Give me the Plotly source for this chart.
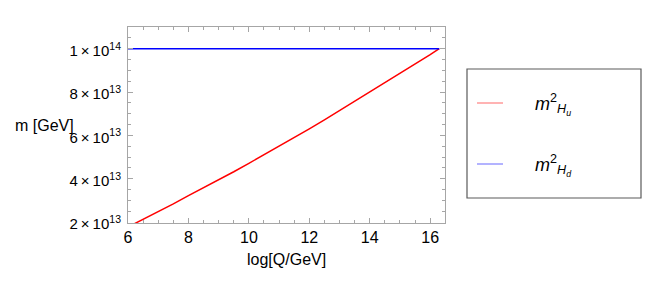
import plotly.graph_objects as go

# Data
log_q = [6.0, 6.5, 7.0, 7.5, 8.0, 8.5, 9.0, 9.5, 10.0, 10.5, 11.0, 11.5, 12.0,
         12.5, 13.0, 13.5, 14.0, 14.5, 15.0, 15.5, 16.0, 16.3]
m2_hu = [1.77e13, 2.12e13, 2.47e13, 2.84e13, 3.22e13, 3.58e13, 3.95e13, 4.32e13,
         4.71e13, 5.10e13, 5.49e13, 5.89e13, 6.30e13, 6.71e13, 7.14e13, 7.56e13,
         7.98e13, 8.41e13, 8.84e13, 9.28e13, 9.72e13, 1.0e14]
m2_hd = [1.0e14] * len(log_q)

x_ticks = [6, 8, 10, 12, 14, 16]
y_tickvals = [2e13, 4e13, 6e13, 8e13, 1e14]
y_ticktext = ["2\u2009×\u200910<sup>13</sup>\u2009", "4\u2009×\u200910<sup>13</sup>\u2009",
              "6\u2009×\u200910<sup>13</sup>\u2009", "8\u2009×\u200910<sup>13</sup>\u2009",
              "1\u2009×\u200910<sup>14</sup>\u2009"]
names = ["m²Hu", "m²Hd"]
legend_labels = ["<i>m</i><sup>2</sup><sub><i>H<sub>u</sub></i></sub>",
                 "<i>m</i><sup>2</sup><sub><i>H<sub>d</sub></i></sub>"]

W, H = 654, 281
OFF = 8  # page body margin in the browser
L, R, T, B = 128 - OFF, 445 - OFF, 27 - OFF, 223 - OFF  # plot box in pixels

def px(x):
    return (x - OFF - L) / (R - L)

def py(y):
    return (B - (y - OFF)) / (B - T)

FONT = "Liberation Sans, Arial, sans-serif"
frame = "#a6a6a6"

fig = go.Figure()
fig.add_trace(go.Scatter(x=log_q, y=m2_hu, mode="lines", name=names[0],
                         line=dict(color="#ff0000", width=1.5), showlegend=False))
fig.add_trace(go.Scatter(x=log_q, y=m2_hd, mode="lines", name=names[1],
                         line=dict(color="#0000ff", width=1.5), showlegend=False))

axis_common = dict(showline=True, linecolor=frame, linewidth=1, mirror="ticks",
                   ticks="inside", tickcolor=frame, ticklen=5, tickwidth=1,
                   showgrid=False, zeroline=False, automargin=False)

fig.update_xaxes(range=[6, 16.49], tickvals=x_ticks,
                 tickfont=dict(family=FONT, size=16, color="#000"),
                 minor=dict(dtick=0.5, tick0=6, ticks="inside", ticklen=3,
                            tickcolor=frame, showgrid=False),
                 **axis_common)
fig.update_yaxes(range=[1.955e13, 1.1e14], tickvals=y_tickvals, ticktext=y_ticktext,
                 tickfont=dict(family=FONT, size=15, color="#000"),
                 minor=dict(dtick=0.5e13, tick0=0, ticks="inside", ticklen=3,
                            tickcolor=frame, showgrid=False),
                 ticklabelshift=2,
                 **axis_common)

annotations = [
    dict(text="m [GeV]", x=px(13), y=py(126), xref="paper", yref="paper",
         xanchor="left", yanchor="middle", showarrow=False,
         font=dict(family=FONT, size=16, color="#000")),
    dict(text="log[Q/GeV]", x=0.5, y=py(259), xref="paper", yref="paper",
         xanchor="center", yanchor="middle", showarrow=False,
         font=dict(family=FONT, size=16, color="#000")),
]
shapes = [
    dict(type="rect", xref="paper", yref="paper", x0=px(467), x1=px(641),
         y0=py(198), y1=py(69), line=dict(color="#5a5a5a", width=1.2),
         fillcolor="rgba(0,0,0,0)"),
]
leg_colors = ["#ff9a9a", "#9a9aff"]
leg_y = [103, 164]
for lab, col, yy in zip(legend_labels, leg_colors, leg_y):
    shapes.append(dict(type="line", xref="paper", yref="paper", x0=px(477), x1=px(503),
                       y0=py(yy), y1=py(yy), line=dict(color=col, width=1.5)))
    annotations.append(dict(text=lab, x=px(533), y=py(yy + 1), xref="paper", yref="paper",
                            xanchor="left", yanchor="middle", showarrow=False,
                            font=dict(family=FONT, size=18, color="#000")))

fig.update_layout(width=W, height=H, margin=dict(l=L, r=W - R, t=T, b=H - B),
                  paper_bgcolor="white", plot_bgcolor="white",
                  annotations=annotations, shapes=shapes, showlegend=False)

fig.write_html("out.html")
